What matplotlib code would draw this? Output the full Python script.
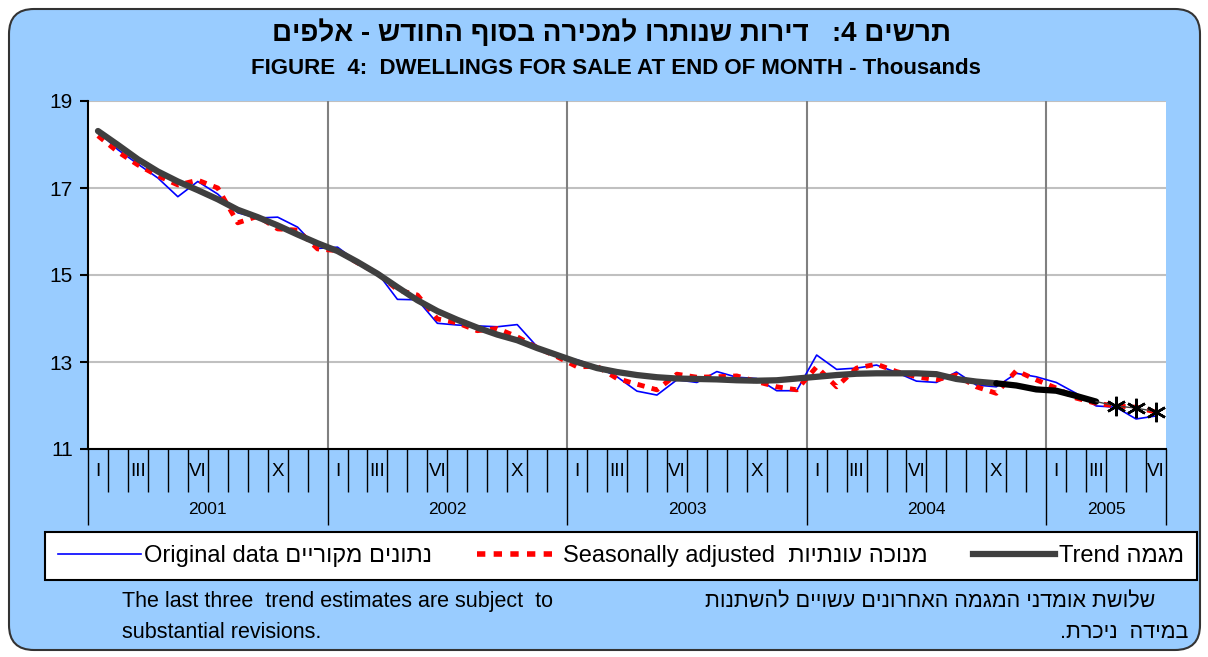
import numpy as np
import matplotlib.pyplot as plt
from matplotlib.patches import FancyBboxPatch
from matplotlib.lines import Line2D

plt.rcParams["font.family"] = ["Liberation Sans", "DejaVu Sans"]

years = ["2001", "2002", "2003", "2004", "2005"]
month_labels = {0: "I", 2: "III", 5: "VI", 9: "X"}

# monthly values, Jan 2001 - Jun 2005 (thousands)
original = [
    18.30, 17.88, 17.55, 17.23, 16.80, 17.15, 16.86, 16.43, 16.31, 16.33, 16.10, 15.61,
    15.64, 15.30, 15.05, 14.44, 14.43, 13.89, 13.85, 13.83, 13.81, 13.86, 13.35, 13.12,
    13.05, 12.89, 12.66, 12.33, 12.24, 12.59, 12.53, 12.78, 12.65, 12.62, 12.34, 12.34,
    13.16, 12.83, 12.86, 12.93, 12.76, 12.56, 12.53, 12.77, 12.47, 12.43, 12.74, 12.66,
    12.53, 12.28, 11.99, 11.96, 11.69, 11.76,
]
seasonal = [
    18.20, 17.83, 17.53, 17.28, 17.07, 17.18, 17.00, 16.20, 16.35, 16.06, 16.03, 15.60,
    15.56, 15.28, 15.04, 14.66, 14.54, 13.99, 13.90, 13.72, 13.77, 13.58, 13.33, 13.12,
    12.89, 12.90, 12.62, 12.49, 12.36, 12.72, 12.65, 12.66, 12.68, 12.55, 12.43, 12.36,
    12.89, 12.43, 12.86, 12.95, 12.78, 12.66, 12.59, 12.70, 12.43, 12.28, 12.80, 12.59,
    12.40, 12.17, 12.05, 11.99, 11.96, 11.85,
]
trend = [
    18.31, 17.99, 17.66, 17.38, 17.15, 16.95, 16.74, 16.50, 16.33, 16.14, 15.93, 15.73,
    15.55, 15.30, 15.03, 14.72, 14.42, 14.17, 13.97, 13.79, 13.63, 13.50, 13.32, 13.16,
    13.00, 12.86, 12.77, 12.70, 12.65, 12.62, 12.61, 12.60, 12.58, 12.57, 12.58, 12.62,
    12.66, 12.70, 12.73, 12.74, 12.74, 12.74, 12.72, 12.61, 12.55, 12.51, 12.46, 12.37,
    12.34, 12.22, 12.09, 11.99, 11.94, 11.86,
]


def rtl(s):
    # matplotlib has no bidi support, so hebrew goes in visual order
    return s[::-1]


W, H = 1208, 657
fig = plt.figure(figsize=(W / 100, H / 100), dpi=100)
fig.patch.set_facecolor("white")

bg = FancyBboxPatch((0.09, 0.07), 11.91, 6.41,
                    boxstyle="round,pad=0,rounding_size=0.25",
                    transform=fig.dpi_scale_trans, fc="#99ccff",
                    ec="#333333", lw=1.5, zorder=-1)
fig.add_artist(bg)

ax = fig.add_axes([88 / W, 1 - 449 / H, 1078 / W, 348 / H])
ax.set_facecolor("white")

n = len(original)
x = np.arange(n) + 0.5

ax.plot(x, original, color="#0000ff", lw=1.2, zorder=3)
ax.plot(x, seasonal, color="#ff0000", lw=3.5, ls=(0, (1.5, 1.5)), zorder=4)
ax.plot(x[:46], trend[:46], color="#3f3f3f", lw=4.5,
        solid_capstyle="round", zorder=5)
ax.plot(x[45:51], trend[45:51], color="black", lw=4.5,
        solid_capstyle="round", zorder=5)
ax.plot(x[50:], trend[50:], color="#404040", lw=1, zorder=5)
ax.plot(x[51:], trend[51:], ls="none", marker=(6, 2, 0), ms=14,
        mec="black", mew=1.8, zorder=6)

ax.set_xlim(0, n)
ax.set_ylim(11, 19)
ax.set_yticks([11, 13, 15, 17, 19])
ax.set_xticks([])
ax.yaxis.grid(True, color="#c0c0c0", lw=1.5)
ax.set_axisbelow(True)
ax.vlines([12, 24, 36, 48], 11, 19, color="#808080", lw=1.5, zorder=1)

for side in ["top", "right"]:
    ax.spines[side].set_visible(False)
for side in ["left", "bottom"]:
    ax.spines[side].set_linewidth(1.5)
ax.tick_params(axis="y", direction="out", length=6, width=1.5,
               labelsize=15, pad=5)

# month / year band under the axis
trans = ax.get_xaxis_transform()
month_edges = [m for m in range(1, n) if m % 12 != 0]
ax.vlines(month_edges, -43 / 348, 0, transform=trans, color="black",
          lw=1, clip_on=False)
ax.vlines([0, 12, 24, 36, 48, n], -76 / 348, 0, transform=trans,
          color="black", lw=1, clip_on=False)
for i in range(n):
    if i % 12 in month_labels:
        ax.text(i + 0.5, -22 / 348, month_labels[i % 12], transform=trans,
                ha="center", va="center", fontsize=13.5)
for k, yr in enumerate(years):
    start, end = 12 * k, min(12 * k + 12, n)
    ax.text((start + end) / 2, -61 / 348, yr, transform=trans,
            ha="center", va="center", fontsize=12.5)

# legend
handles = [
    Line2D([], [], color="#0000ff", lw=1.2),
    Line2D([], [], color="#ff0000", lw=4, ls=(0, (1.5, 1.5))),
    Line2D([], [], color="#3f3f3f", lw=4.5),
]
labels = [
    "Original data " + rtl("נתונים מקוריים"),
    "Seasonally adjusted  " + rtl("מנוכה עונתיות"),
    "Trend " + rtl("מגמה"),
]
leg = fig.legend(handles, labels, loc="lower left",
                 bbox_to_anchor=(45 / W, 1 - 580 / H, 1152 / W, 52 / H),
                 mode="expand", ncol=3, frameon=True, fancybox=False,
                 edgecolor="black", framealpha=1, handlelength=3.5,
                 handletextpad=0.15, borderaxespad=0, borderpad=0.55,
                 fontsize=17)
leg.get_frame().set_linewidth(1.5)

# titles
fig.text(612 / W, 1 - 33 / H,
         rtl("תרשים 4:   דירות שנותרו למכירה בסוף החודש - אלפים"),
         ha="center", va="center", fontsize=20, fontweight="bold")
fig.text(616 / W, 1 - 68 / H,
         "FIGURE  4:  DWELLINGS FOR SALE AT END OF MONTH - Thousands",
         ha="center", va="center", fontsize=16, fontweight="bold")

# notes
fig.text(122 / W, 1 - 602 / H,
         "The last three  trend estimates are subject  to",
         ha="left", va="center", fontsize=15.5)
fig.text(122 / W, 1 - 632 / H, "substantial revisions.",
         ha="left", va="center", fontsize=15.5)
fig.text(1155 / W, 1 - 602 / H,
         rtl("שלושת אומדני המגמה האחרונים עשויים להשתנות"),
         ha="right", va="center", fontsize=15.5)
fig.text(1188 / W, 1 - 632 / H, rtl("במידה  ניכרת."),
         ha="right", va="center", fontsize=15.5)

fig.savefig("out.png", dpi=100)
